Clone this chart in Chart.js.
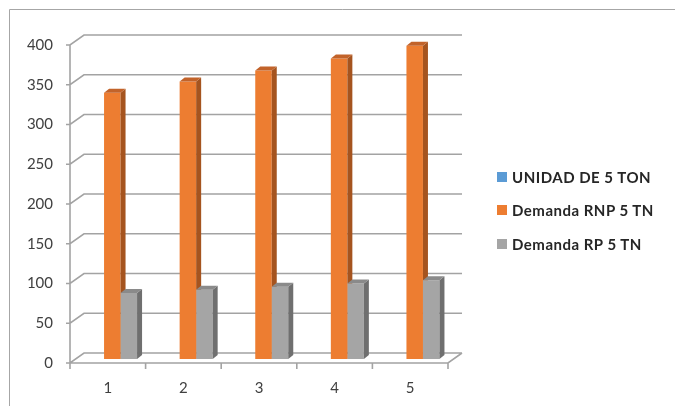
<!DOCTYPE html>
<html>
<head>
<meta charset="utf-8">
<title>Demanda 5 TN</title>
<script src="https://cdn.jsdelivr.net/npm/chart.js@4.4.0/dist/chart.umd.min.js"></script>
<style>
  html, body { margin: 0; padding: 0; background: #fff; }
  #wrap { position: relative; width: 675px; height: 406px; }
  #legend { position: absolute; left: 497px; top: 160px; margin: 0; padding: 0; list-style: none;
            font-family: Lato, "Open Sans", sans-serif; font-weight: bold; font-size: 15px;
            letter-spacing: 0.5px; color: #262626; }
  #legend li { display: flex; align-items: center; height: 33.5px; white-space: nowrap; }
  #legend .box { display: inline-block; width: 10px; height: 10px; margin-right: 5px; }
</style>
</head>
<body>
<div id="wrap">
  <canvas id="chart" width="675" height="406"></canvas>
  <ul id="legend"></ul>
</div>
<script>
// data
const categories = ['1', '2', '3', '4', '5'];
const seriesNames = ['UNIDAD DE 5 TON', 'Demanda RNP 5 TN', 'Demanda RP 5 TN'];
const unidad = [0, 0, 0, 0, 0];
const demandaRNP = [335, 349, 363, 378, 394];
const demandaRP = [83, 87, 91, 95, 99];
const yTicks = [0, 50, 100, 150, 200, 250, 300, 350, 400];

const fronts = ['#5b9bd5', '#ed7d31', '#a5a5a5'];
const sides = ['#41719c', '#a5541f', '#6f6f6f'];
const tops = ['#4a83b8', '#c2632a', '#8a8a8a'];

// 3d look: wall offset and bar depth
const WALL_DX = 14, WALL_DY = -10;
const BAR_DX = 4.5, BAR_DY = -4;
const DEPTH_X = 5, DEPTH_Y = -4;

Chart.defaults.font.family = 'Lato, "Open Sans", sans-serif';

// legend as html list, built from the chart's own legend items
const htmlLegend = {
    id: 'htmlLegend',
    afterUpdate(chart) {
        const ul = document.getElementById('legend');
        ul.innerHTML = '';
        const items = chart.options.plugins.legend.labels.generateLabels(chart);
        items.forEach(item => {
            const li = document.createElement('li');
            const box = document.createElement('span');
            box.className = 'box';
            box.style.background = item.fillStyle;
            li.appendChild(box);
            li.appendChild(document.createTextNode(item.text));
            ul.appendChild(li);
        });
    }
};

const frame3d = {
    id: 'frame3d',
    beforeDraw(chart) {
        const ctx = chart.ctx;
        ctx.save();
        ctx.strokeStyle = '#a6a6a6';
        ctx.lineWidth = 1;
        ctx.beginPath();
        ctx.moveTo(9.5, chart.height);
        ctx.lineTo(9.5, 9.5);
        ctx.lineTo(chart.width, 9.5);
        ctx.stroke();
        ctx.restore();
    },
    beforeDatasetsDraw(chart) {
        const ctx = chart.ctx;
        const y = chart.scales.y;
        const x = chart.scales.x;
        const L = chart.chartArea.left, R = chart.chartArea.right;
        ctx.save();
        ctx.strokeStyle = '#a3a3a3';
        ctx.lineWidth = 1.6;
        ctx.beginPath();
        yTicks.forEach(v => {
            const yy = y.getPixelForValue(v);
            ctx.moveTo(L - 4, yy);
            ctx.lineTo(L, yy);
            ctx.lineTo(L + WALL_DX, yy + WALL_DY);
            ctx.lineTo(R + WALL_DX, yy + WALL_DY);
        });
        // left edge and floor
        const y0 = y.getPixelForValue(0);
        ctx.moveTo(L, y.getPixelForValue(yTicks[yTicks.length - 1]));
        ctx.lineTo(L, y0);
        ctx.lineTo(R, y0);
        ctx.lineTo(R + WALL_DX, y0 + WALL_DY);
        // category ticks on the floor edge
        const step = x.getPixelForTick(1) - x.getPixelForTick(0);
        for (let i = 0; i <= categories.length; i++) {
            const xx = x.getPixelForTick(0) - step / 2 + i * step;
            ctx.moveTo(xx, y0);
            ctx.lineTo(xx, y0 + 6);
        }
        ctx.stroke();
        ctx.restore();

        ctx.save();
        ctx.translate(BAR_DX, BAR_DY);
    },
    afterDatasetsDraw(chart) {
        const ctx = chart.ctx;
        const n = chart.data.datasets.length;
        for (let d = 0; d < n; d++) {
            const meta = chart.getDatasetMeta(d);
            const next = d + 1 < n ? chart.getDatasetMeta(d + 1) : null;
            meta.data.forEach((bar, j) => {
                if (!chart.data.datasets[d].data[j]) return;
                const p = bar.getProps(['x', 'y', 'base', 'width'], true);
                const left = p.x - p.width / 2, right = p.x + p.width / 2;
                ctx.save();
                // the next bar's front face hides the lower part of this side
                if (next && chart.data.datasets[d + 1].data[j]) {
                    const nb = next.data[j].getProps(['y'], true);
                    ctx.beginPath();
                    ctx.rect(-50, -50, chart.width + 100, chart.height + 100);
                    ctx.rect(right, nb.y, DEPTH_X + 2, chart.height);
                    ctx.clip('evenodd');
                }
                ctx.fillStyle = sides[d];
                ctx.beginPath();
                ctx.moveTo(right, p.y);
                ctx.lineTo(right + DEPTH_X, p.y + DEPTH_Y);
                ctx.lineTo(right + DEPTH_X, p.base + DEPTH_Y);
                ctx.lineTo(right, p.base);
                ctx.closePath();
                ctx.fill();
                ctx.fillStyle = tops[d];
                ctx.beginPath();
                ctx.moveTo(left, p.y);
                ctx.lineTo(left + DEPTH_X, p.y + DEPTH_Y);
                ctx.lineTo(right + DEPTH_X, p.y + DEPTH_Y);
                ctx.lineTo(right, p.y);
                ctx.closePath();
                ctx.fill();
                ctx.restore();
            });
        }
        ctx.restore();
    }
};

new Chart(document.getElementById('chart'), {
    type: 'bar',
    data: {
        labels: categories,
        datasets: [
            { label: seriesNames[0], data: unidad, backgroundColor: fronts[0], borderWidth: 0 },
            { label: seriesNames[1], data: demandaRNP, backgroundColor: fronts[1], borderWidth: 0 },
            { label: seriesNames[2], data: demandaRP, backgroundColor: fronts[2], borderWidth: 0 }
        ]
    },
    options: {
        responsive: false,
        animation: false,
        categoryPercentage: 0.655,
        barPercentage: 1,
        layout: { padding: { top: 45, right: 227, bottom: 0, left: 0 } },
        scales: {
            x: {
                grid: { display: false, drawTicks: false },
                border: { display: false },
                ticks: { color: '#404040', font: { size: 15 }, padding: 16 },
                afterFit: s => { s.height = 43; }
            },
            y: {
                min: 0,
                max: 400,
                grid: { display: false, drawTicks: false },
                border: { display: false },
                ticks: { stepSize: 50, color: '#404040', font: { size: 15 }, padding: 17 },
                afterFit: s => { s.width = 70; }
            }
        },
        plugins: {
            legend: { display: false },
            tooltip: { enabled: false }
        }
    },
    plugins: [frame3d, htmlLegend]
});
</script>
</body>
</html>
